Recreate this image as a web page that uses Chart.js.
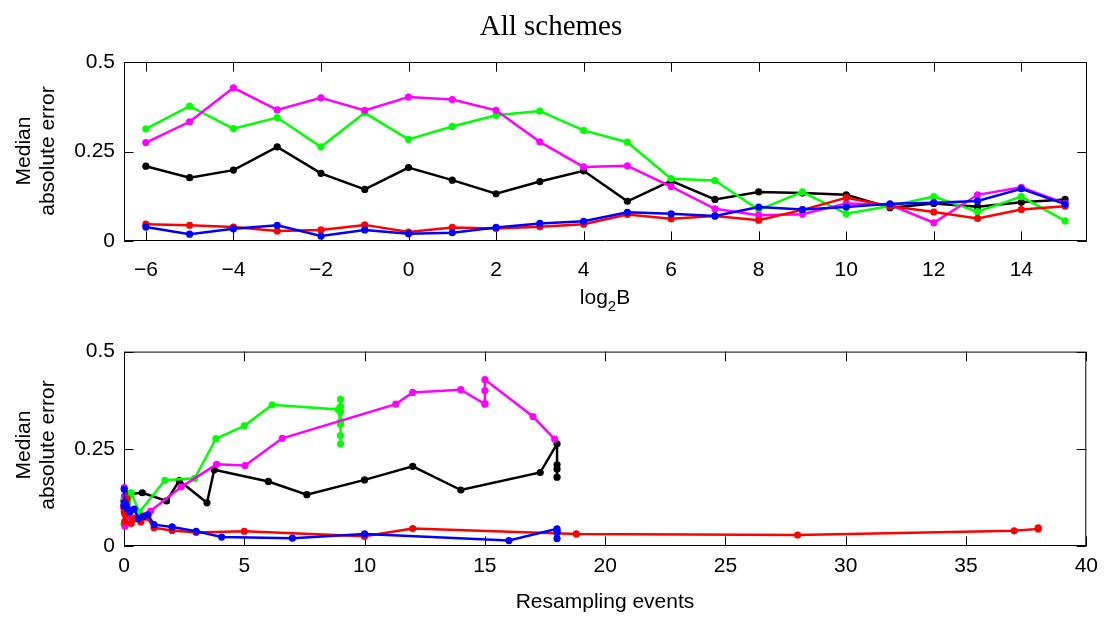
<!DOCTYPE html>
<html><head><meta charset="utf-8">
<script src="https://cdn.jsdelivr.net/npm/chart.js@4.4.1/dist/chart.umd.min.js"></script>
<style>
html,body{margin:0;padding:0;background:#fff;width:1106px;height:617px;overflow:hidden;}
#wrap{position:relative;width:1106px;height:617px;background:#fff;}
canvas{position:absolute;left:0;}
.lbl{position:absolute;font-family:'Liberation Sans',Arial,Helvetica,sans-serif;font-size:21px;color:#000;white-space:nowrap;}
.ttl{position:absolute;font-family:'Liberation Serif','DejaVu Serif',serif;font-size:29px;color:#000;white-space:nowrap;}
.rot{transform:translate(-50%,-50%) rotate(-90deg);text-align:center;line-height:24px;}
</style></head><body>
<div id="wrap">
  <canvas id="c1" width="1106" height="330" style="top:0"></canvas>
  <canvas id="c2" width="1106" height="287" style="top:330px"></canvas>
  <div class="ttl" style="left:551px;top:8px;line-height:34px;transform:translateX(-50%);">All schemes</div>
  <div class="lbl rot" style="left:35px;top:151px;">Median<br>absolute error</div>
  <div class="lbl rot" style="left:35px;top:445px;">Median<br>absolute error</div>
  <div class="lbl" style="left:605px;top:284px;line-height:26px;transform:translateX(-50%);">log<span style="font-size:15px;position:relative;top:7px;">2</span>B</div>
  <div class="lbl" style="left:605px;top:588px;line-height:26px;transform:translateX(-50%);">Resampling events</div>
</div>
<script>
// ---- data ----
const log2B = [-6,-5,-4,-3,-2,-1,0,1,2,3,4,5,6,7,8,9,10,11,12,13,14,15];

const errGreen   = [0.313,0.377,0.314,0.345,0.263,0.358,0.284,0.320,0.351,0.363,0.309,0.276,0.174,0.169,0.087,0.137,0.076,0.098,0.124,0.082,0.124,0.056];
const errMagenta = [0.275,0.333,0.428,0.366,0.400,0.365,0.402,0.395,0.365,0.277,0.207,0.210,0.152,0.090,0.072,0.075,0.105,0.101,0.051,0.129,0.150,0.105];
const errBlack   = [0.209,0.177,0.198,0.263,0.189,0.144,0.205,0.170,0.132,0.166,0.196,0.111,0.168,0.116,0.137,0.134,0.129,0.093,0.105,0.096,0.108,0.116];
const errRed     = [0.047,0.044,0.039,0.028,0.031,0.045,0.025,0.038,0.035,0.040,0.047,0.074,0.062,0.070,0.058,0.087,0.121,0.098,0.081,0.063,0.088,0.097];
const errBlue    = [0.039,0.019,0.034,0.044,0.014,0.031,0.020,0.023,0.038,0.049,0.055,0.080,0.076,0.070,0.095,0.088,0.095,0.104,0.107,0.112,0.146,0.103];

const resGreen   = [9,9,9,9,9,9,9,9,8.9,6.16,5.0,3.82,2.94,1.70,0.64,0.30,0.15,0.10,0.06,0.03,0.01,0];
const resMagenta = [17.9,17,15,15,15,15,14,12,11.3,6.58,5.03,3.85,2.37,1.11,0.39,0.20,0.12,0.08,0.04,0.02,0.01,0];
const resBlack   = [18,18,18,18,17.3,14,12,10,7.6,6.0,3.75,3.45,2.3,1.77,0.76,0.25,0.15,0.10,0.06,0.03,0.01,0];
const resRed     = [38,38,37,28,18.8,12,10,5.0,3.0,2.0,1.25,0.95,0.70,0.45,0.30,0.20,0.12,0.08,0.05,0.03,0.01,0];
const resBlue    = [18,18,18,18,16,10,7,4.06,3.0,2.0,1.25,1.0,0.8,0.6,0.42,0.25,0.15,0.08,0.05,0.03,0.01,0];

const xTicksTop    = [-6,-4,-2,0,2,4,6,8,10,12,14];
const xTicksBottom = [0,5,10,15,20,25,30,35,40];
const yTicks       = [0,0.25,0.5];

const series = [
  {name:'black',   color:'#000000', err:errBlack,   res:resBlack,   order:4},
  {name:'green',   color:'#00ff00', err:errGreen,   res:resGreen,   order:3},
  {name:'magenta', color:'#ff00ff', err:errMagenta, res:resMagenta, order:2},
  {name:'red',     color:'#ff0000', err:errRed,     res:resRed,     order:1},
  {name:'blue',    color:'#0000ff', err:errBlue,    res:resBlue,    order:0}
];

// ---- helpers ----
const FONT = {family:"'Liberation Sans', Arial, Helvetica, sans-serif", size:21};
const fmt = v => (v < 0 ? '\u2212' + Math.abs(v) : String(+Number(v).toFixed(2)));
const TICK_LEN = 9.6;

const boxPlugin = {
  id:'box',
  beforeDatasetsDraw(chart){
    const {ctx, chartArea:a, scales} = chart;
    ctx.save();
    ctx.strokeStyle = '#000';
    ctx.lineWidth = 1;
    ctx.beginPath();
    ctx.rect(a.left+0.5, a.top+0.5, a.right-a.left-1, a.bottom-a.top-1);
    scales.x.ticks.forEach(t => {
      const x = Math.round(scales.x.getPixelForValue(t.value)) + 0.5;
      ctx.moveTo(x, a.bottom); ctx.lineTo(x, a.bottom - TICK_LEN);
      ctx.moveTo(x, a.top); ctx.lineTo(x, a.top + TICK_LEN);
    });
    scales.y.ticks.forEach(t => {
      const y = Math.round(scales.y.getPixelForValue(t.value)) + 0.5;
      ctx.moveTo(a.left, y); ctx.lineTo(a.left + TICK_LEN, y);
      ctx.moveTo(a.right, y); ctx.lineTo(a.right - TICK_LEN, y);
    });
    ctx.stroke();
    ctx.restore();
  }
};

function makeChart(id, xKey, xMin, xMax, xTicks, padTop, xAxisH, xPad){
  const datasets = series.map(s => ({
    label: s.name,
    data: (xKey === 'B' ? log2B : s.res).map((x,i) => ({x:x, y:s.err[i]})),
    borderColor: s.color,
    backgroundColor: s.color,
    pointBackgroundColor: s.color,
    pointBorderColor: s.color,
    pointBorderWidth: 0,
    pointRadius: 3.6,
    borderWidth: 2.5,
    showLine: true,
    tension: 0,
    clip: false,
    order: s.order
  }));
  return new Chart(document.getElementById(id), {
    type:'scatter',
    data:{datasets},
    options:{
      responsive:false, animation:false, devicePixelRatio:1,
      layout:{padding:{top:padTop, right:19, left:0, bottom:0}},
      plugins:{legend:{display:false}, tooltip:{enabled:false}, title:{display:false}},
      scales:{
        x:{type:'linear', min:xMin, max:xMax,
           afterBuildTicks: s => { s.ticks = xTicks.map(v => ({value:v})); },
           afterFit: s => { s.height = xAxisH; },
           ticks:{callback:fmt, font:FONT, color:'#000', padding:xPad, maxRotation:0, autoSkip:false},
           grid:{display:false, drawTicks:false}, border:{display:false}},
        y:{type:'linear', min:0, max:0.5,
           afterBuildTicks: s => { s.ticks = yTicks.map(v => ({value:v})); },
           afterFit: s => { s.width = 124; },
           ticks:{callback:fmt, font:FONT, color:'#000', padding:9},
           grid:{display:false, drawTicks:false}, border:{display:false}}
      }
    },
    plugins:[boxPlugin]
  });
}

makeChart('c1', 'B',   -6.5, 15.5, xTicksTop,    62, 330-241, 17);
makeChart('c2', 'res',  0,   40,   xTicksBottom, 14, 287-216, 8);
</script>
</body></html>
